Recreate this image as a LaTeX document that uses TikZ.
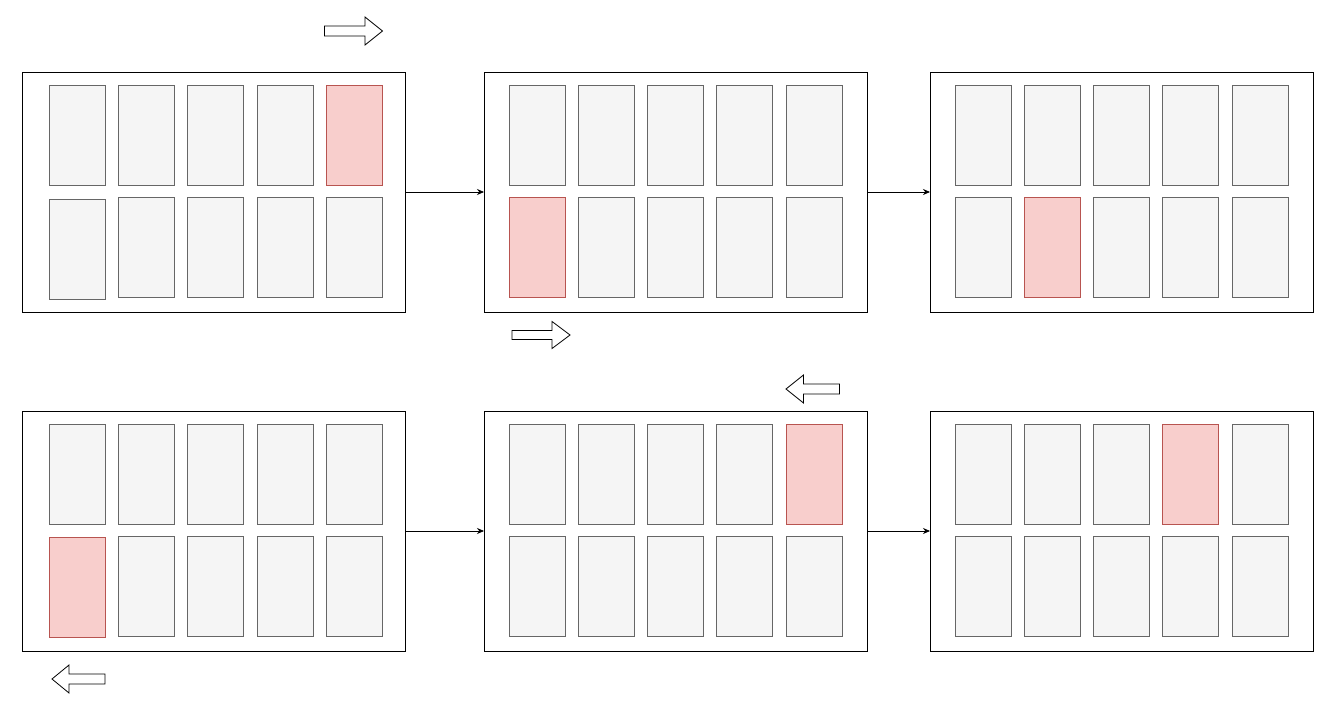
\documentclass[tikz,border=0pt]{standalone}
\usetikzlibrary{arrows.meta}
\definecolor{cellfill}{HTML}{F5F5F5}
\definecolor{celldraw}{HTML}{666666}
\definecolor{redfill}{HTML}{F8CECC}
\definecolor{reddraw}{HTML}{B85450}
\tikzset{
  panel/.style={draw=black, line width=0.9pt, fill=white, anchor=north west, minimum width=383pt, minimum height=240pt, inner sep=0pt, outer sep=0pt},
  cell/.style={draw=celldraw, fill=cellfill, line width=0.9pt, anchor=north west, minimum width=56pt, minimum height=100pt, inner sep=0pt, outer sep=0pt},
  hot/.style={cell, draw=reddraw, fill=redfill},
  flow/.style={draw=black, line width=0.8pt, -{Stealth[length=7pt,width=6pt]}},
  blockarrow/.style={draw=black, line width=0.8pt, fill=white, line join=miter}
}
\begin{document}
\begin{tikzpicture}[x=1pt,y=-1pt]
\useasboundingbox (0,0) rectangle (1339,717);
% panels
\node[panel] (p1) at (22,72) {};
\node[panel] (p2) at (484,72) {};
\node[panel] (p3) at (930,72) {};
\node[panel] (p4) at (22,411) {};
\node[panel] (p5) at (484,411) {};
\node[panel] (p6) at (930,411) {};
% cells: panel, left, top, offset, hot row, hot col, shift of bottom-left cell
\foreach \p/\lx/\ty/\off/\hr/\hc/\sh in {1/22/72/27.3/0/4/2, 2/484/72/25/1/0/0, 3/930/72/25/1/1/0, 4/22/411/27.3/1/0/1, 5/484/411/25/0/4/0, 6/930/411/25/0/3/0}{
  \foreach \r in {0,1}{
    \foreach \c in {0,...,4}{
      \pgfmathsetmacro{\cx}{\lx+\off+\c*69.3}
      \pgfmathsetmacro{\cy}{\ty+13+\r*112.5+((\r==1)&&(\c==0))*\sh}
      \pgfmathtruncatemacro{\ishot}{(\r==\hr)&&(\c==\hc)}
      \ifnum\ishot=1
        \node[hot] (c\p-\r-\c) at (\cx,\cy) {};
      \else
        \node[cell] (c\p-\r-\c) at (\cx,\cy) {};
      \fi
    }
  }
}
% connectors
\draw[flow] (p1.east) -- (p2.west);
\draw[flow] (p2.east) -- (p3.west);
\draw[flow] (p4.east) -- (p5.west);
\draw[flow] (p5.east) -- (p6.west);
% block arrows (right-pointing)
\draw[blockarrow] (324.5,26) -- (365,26) -- (365,17) -- (382.5,31) -- (365,45) -- (365,36) -- (324.5,36) -- cycle;
\draw[blockarrow] (512,330.5) -- (552,330.5) -- (552,321.5) -- (570,335) -- (552,348.5) -- (552,339.5) -- (512,339.5) -- cycle;
% block arrows (left-pointing)
\draw[blockarrow] (839.5,384) -- (803.5,384) -- (803.5,375) -- (786,389) -- (803.5,403) -- (803.5,394) -- (839.5,394) -- cycle;
\draw[blockarrow] (105,674) -- (69,674) -- (69,665) -- (52,679) -- (69,693) -- (69,684) -- (105,684) -- cycle;
\end{tikzpicture}
\end{document}
